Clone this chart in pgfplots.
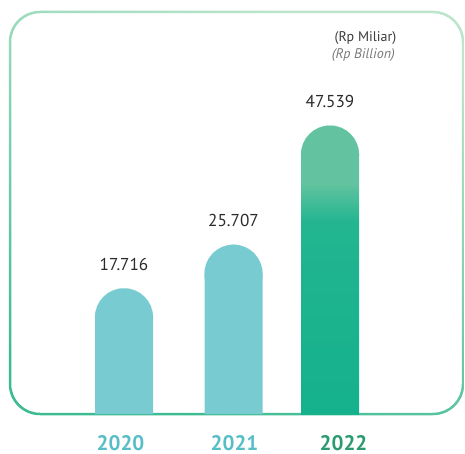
\documentclass[border=0pt]{standalone}
\usepackage{pgfplots}
\pgfplotsset{compat=1.18}
\usepackage{fontspec}
\setmainfont{PT Sans}
\definecolor{barA}{HTML}{79CBD2}
\definecolor{gTop}{HTML}{63C3A0}
\definecolor{gB}{HTML}{22B590}
\definecolor{gBot}{HTML}{15B18D}
\definecolor{capC}{HTML}{63C3A0}
\definecolor{frameTop}{HTML}{BCE5CB}
\definecolor{frameBot}{HTML}{3DBB93}
\definecolor{yrA}{HTML}{57BEC7}
\definecolor{yrB}{HTML}{2A9B70}
\definecolor{valtext}{HTML}{2B2B2B}
\definecolor{unitA}{HTML}{3A3A3A}
\definecolor{unitB}{HTML}{7A7A7A}
\pgfdeclareverticalshading{barg}{100bp}{color(0bp)=(gBot); color(25bp)=(gBot);
  color(62bp)=(gB); color(69.5bp)=(gTop); color(75bp)=(gTop); color(100bp)=(gTop)}
\begin{document}
\begin{tikzpicture}[x=1pt,y=1pt]
\useasboundingbox (0,0) rectangle (465,453);
\shade[even odd rule, top color=frameTop, bottom color=frameBot, shading angle=-20,
  rounded corners=31.25pt] (8.75,37.75) rectangle (464.25,442.25)
  [rounded corners=28.75pt] (11.25,40.25) rectangle (461.75,439.75);
\begin{axis}[
  at={(0pt,39pt)}, anchor=origin, scale only axis,
  width=465pt, height=414pt,
  xmin=0, xmax=465, ymin=0, ymax=75852,
  axis line style={draw=none},
  ytick=\empty,
  xtick={120.5,234.5,343.5},
  xticklabels={\textcolor{yrA}{2020},\textcolor{yrA}{2021},\textcolor{yrB}{2022}},
  major tick length=0pt,
  xticklabel style={anchor=base, inner sep=0pt, yshift=-36pt, font=\bfseries\fontsize{21}{21}\selectfont},
  ybar, bar width=58pt, bar shift=0pt,
  nodes near coords, point meta=explicit symbolic,
  every node near coord/.append style={anchor=base, yshift=47pt, text=valtext,
    font=\fontsize{17.2}{17.2}\selectfont},
  clip mode=individual,
]
\addplot[draw=none, fill=barA, mark=*, mark size=29pt,
  mark options={draw=barA, fill=barA, line width=0.1pt}]
  coordinates {(124,17716) [17.716] (233.5,25707) [25.707]};
\addplot[draw=none, shade, shading=barg,
  mark=*, mark size=29pt,
  mark options={draw=capC, fill=capC, line width=0.1pt}]
  coordinates {(330,47539) [47.539]};
\end{axis}
\node[anchor=base east, text=unitA, font=\fontsize{14}{14}\selectfont, inner sep=0pt]
  at (396.5,411.3) {(Rp Miliar)};
\node[anchor=base east, text=unitB, font=\itshape\fontsize{14}{14}\selectfont, inner sep=0pt]
  at (395,394.7) {(Rp Billion)};
\end{tikzpicture}
\end{document}
